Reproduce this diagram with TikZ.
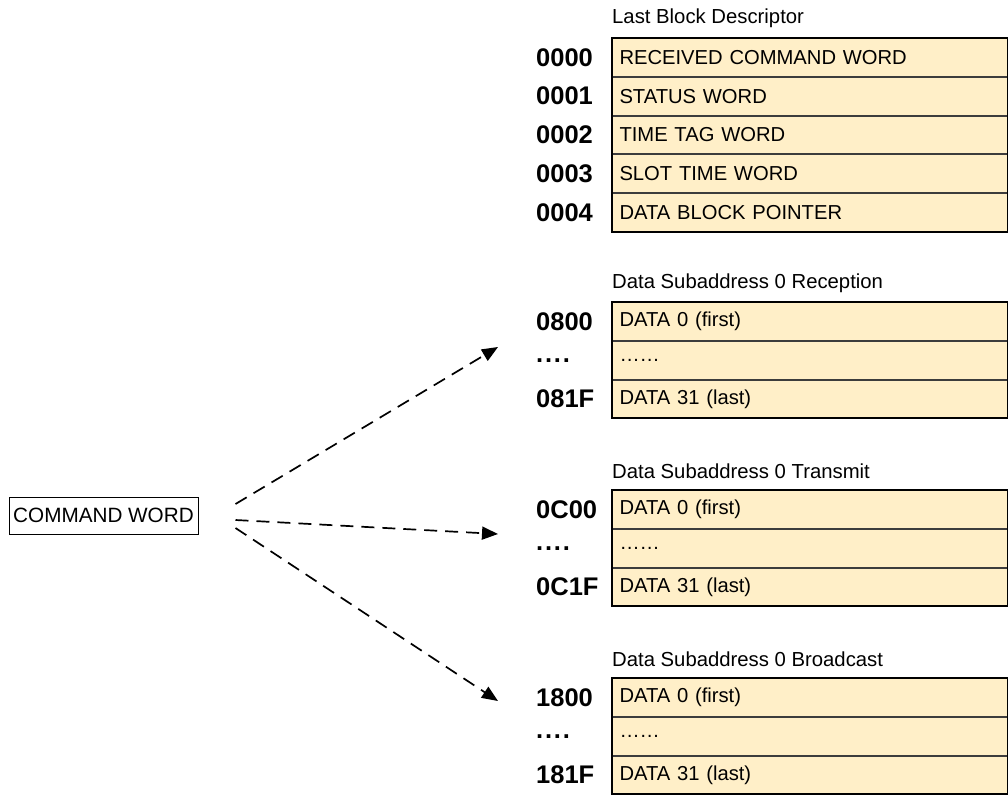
\documentclass[tikz,border=0pt]{standalone}
\usepackage{fontspec}
\setmainfont{Liberation Sans}
\usetikzlibrary{arrows.meta}
\definecolor{cellfill}{RGB}{255,239,200}
\definecolor{cellline}{RGB}{60,60,60}
\newcommand{\bdots}{.\kern1.8pt.\kern1.8pt.\kern1.8pt.}
\tikzset{
  cell/.style={draw=cellline, line width=1pt, fill=cellfill, anchor=north west,
    minimum width=395pt, minimum height=37.75pt, inner xsep=7pt, inner ysep=0pt,
    text width=381pt, align=left, font=\fontsize{20.2}{24}\selectfont},
  addr/.style={anchor=west, inner sep=0pt, font=\fontsize{25.5}{28}\selectfont\bfseries},
  title/.style={anchor=west, inner sep=0pt, font=\fontsize{20.3}{23}\selectfont},
  frame/.style={draw=black, line width=1.6pt},
  link/.style={line width=1.7pt, dash pattern=on 13pt off 8pt,
    -{Triangle[length=16pt,width=13pt]}},
  cmdbox/.style={draw=black, line width=1pt, minimum width=189pt, minimum height=37pt,
    inner sep=4pt, font=\fontsize{20.7}{24}\selectfont},
}
\begin{document}
\begin{tikzpicture}[x=1pt, y=-1pt]
\useasboundingbox (0,0) rectangle (1008,798);

% Last block descriptor
\node[title] (t1) at (612,18) {Last Block Descriptor};
\node[cell] (r0) at (612,38) {RECEIVED COMMAND WORD};
\node[cell] (r1) at (r0.south west) {STATUS WORD};
\node[cell] (r2) at (r1.south west) {TIME TAG WORD};
\node[cell] (r3) at (r2.south west) {SLOT TIME WORD};
\node[cell] (r4) at (r3.south west) {DATA BLOCK POINTER};
\draw[frame] (r0.north west) rectangle (r4.south east);
\node[addr] (a0) at ([xshift=-76pt]r0.west) {0000};
\node[addr] (a1) at ([xshift=-76pt]r1.west) {0001};
\node[addr] (a2) at ([xshift=-76pt]r2.west) {0002};
\node[addr] (a3) at ([xshift=-76pt]r3.west) {0003};
\node[addr] (a4) at ([xshift=-76pt]r4.west) {0004};

% Subaddress 0 reception
\node[title] (t2) at (612,283) {Data Subaddress 0 Reception};
\node[cell] (rx0) at (612,302) {DATA 0 (first)};
\node[cell] (rx1) at (rx0.south west) {……};
\node[cell] (rx2) at (rx1.south west) {DATA 31 (last)};
\draw[frame] (rx0.north west) rectangle (rx2.south east);
\node[addr] (arx0) at ([xshift=-76pt]rx0.west) {0800};
\node[addr] (arx1) at ([xshift=-76pt]rx1.west) {\bdots};
\node[addr] (arx2) at ([xshift=-76pt]rx2.west) {081F};

% Subaddress 0 transmit
\node[title] (t3) at (612,471) {Data Subaddress 0 Transmit};
\node[cell] (tx0) at (612,490) {DATA 0 (first)};
\node[cell] (tx1) at (tx0.south west) {……};
\node[cell] (tx2) at (tx1.south west) {DATA 31 (last)};
\draw[frame] (tx0.north west) rectangle (tx2.south east);
\node[addr] (atx0) at ([xshift=-76pt]tx0.west) {0C00};
\node[addr] (atx1) at ([xshift=-76pt]tx1.west) {\bdots};
\node[addr] (atx2) at ([xshift=-76pt]tx2.west) {0C1F};

% Subaddress 0 broadcast
\node[title] (t4) at (612,659) {Data Subaddress 0 Broadcast};
\node[cell] (bc0) at (612,678) {DATA 0 (first)};
\node[cell] (bc1) at (bc0.south west) {……};
\node[cell] (bc2) at (bc1.south west) {DATA 31 (last)};
\draw[frame] (bc0.north west) rectangle (bc2.south east);
\node[addr] (abc0) at ([xshift=-76pt]bc0.west) {1800};
\node[addr] (abc1) at ([xshift=-76pt]bc1.west) {\bdots};
\node[addr] (abc2) at ([xshift=-76pt]bc2.west) {181F};

% Command word and its three targets
\node[cmdbox] (cmd) at (103.5,515.5) {COMMAND WORD};
\coordinate (tip1) at (498,347);
\coordinate (tip2) at (498,534);
\coordinate (tip3) at (498,701);
\draw[link] ([xshift=37pt,yshift=11.5pt]cmd.east) -- (tip1);
\draw[link] ([xshift=37pt,yshift=-4.5pt]cmd.east) -- (tip2);
\draw[link] ([xshift=37pt,yshift=-12.5pt]cmd.east) -- (tip3);
\end{tikzpicture}
\end{document}
